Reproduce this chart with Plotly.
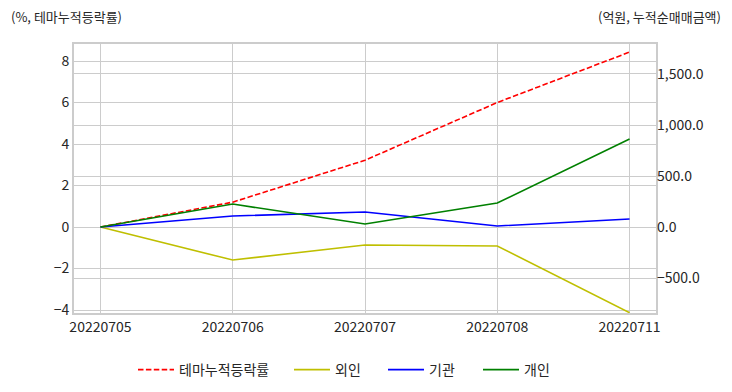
import plotly.graph_objects as go

dates = ["20220705", "20220706", "20220707", "20220708", "20220711"]
theme_rate = [0.0, 1.2, 3.22, 6.0, 8.43]
foreign = [0.0, -324.0, -176.0, -186.0, -840.0]
institution = [0.0, 108.0, 147.0, 10.0, 78.0]
individual = [0.0, 225.0, 29.0, 235.0, 863.0]

FONT = "Noto Sans CJK KR"
TXT = "#262626"
GRID = "#cccccc"

PL, PR, PT, PB = 74, 656, 44, 313
W, H = 732, 392
PW = PR - PL

def px_x(x):
    return (x - PL) / PW

def px_y(y):
    return (PB - y) / (PB - PT)

# legend item starts (pixel positions of the line symbol)
leg_x = [138, 294, 388, 483]
LEG_OFF = 5

fig = go.Figure()
fig.add_trace(go.Scatter(x=dates, y=theme_rate, name="테마누적등락률", mode="lines",
                         line=dict(color="#ff0000", width=1.6, dash="5.5px,2.4px"), yaxis="y",
                         legend="legend"))
fig.add_trace(go.Scatter(x=dates, y=foreign, name="외인", mode="lines",
                         line=dict(color="#bfbf00", width=1.6), yaxis="y2", legend="legend2"))
fig.add_trace(go.Scatter(x=dates, y=institution, name="기관", mode="lines",
                         line=dict(color="#0000ff", width=1.6), yaxis="y2", legend="legend3"))
fig.add_trace(go.Scatter(x=dates, y=individual, name="개인", mode="lines",
                         line=dict(color="#008000", width=1.6), yaxis="y2", legend="legend4"))

legends = {}
for i, lx in enumerate(leg_x):
    key = "legend" if i == 0 else f"legend{i+1}"
    legends[key] = dict(orientation="h", x=px_x(lx - LEG_OFF), xanchor="left",
                        y=px_y(370), yanchor="middle", font=dict(size=14, color=TXT),
                        bgcolor="rgba(0,0,0,0)", itemwidth=36, visible=True)

fig.update_layout(
    width=W, height=H,
    showlegend=True,
    margin=dict(l=PL, r=W - PR, t=PT, b=H - PB, autoexpand=False),
    paper_bgcolor="white", plot_bgcolor="white",
    font=dict(family=FONT, size=14, color=TXT),
    xaxis=dict(type="category", range=[-0.2, 4.2], showgrid=True, gridcolor=GRID, gridwidth=1,
               showline=True, linecolor=GRID, linewidth=2, mirror=True, ticks="",
               tickfont=dict(size=14, color=TXT), zeroline=False, automargin=False),
    yaxis=dict(range=[-4.14, 8.82], tickmode="array", tickvals=[-4, -2, 0, 2, 4, 6, 8],
               showgrid=True, gridcolor=GRID, gridwidth=1, zeroline=False,
               showline=True, linecolor=GRID, linewidth=2, mirror=True,
               tickfont=dict(size=14, color=TXT), ticks="", automargin=False),
    yaxis2=dict(range=[-843, 1794], overlaying="y", side="right",
                tickmode="array", tickvals=[-500, 0, 500, 1000, 1500], tickformat=",.1f",
                showgrid=True, gridcolor=GRID, gridwidth=1, zeroline=False,
                showline=False, tickfont=dict(size=14, color=TXT), ticks="", automargin=False),
    annotations=[
        dict(text="(%, 테마누적등락률)", xref="paper", yref="paper", x=px_x(9), y=px_y(16),
             xanchor="left", yanchor="middle", showarrow=False, font=dict(size=13, color=TXT)),
        dict(text="(억원, 누적순매매금액)", xref="paper", yref="paper", x=px_x(723), y=px_y(16),
             xanchor="right", yanchor="middle", showarrow=False, font=dict(size=13, color=TXT)),
    ],
    **legends,
)

fig.write_html("out.html", config={"displayModeBar": False},
               post_script="document.body.style.margin='0';")
